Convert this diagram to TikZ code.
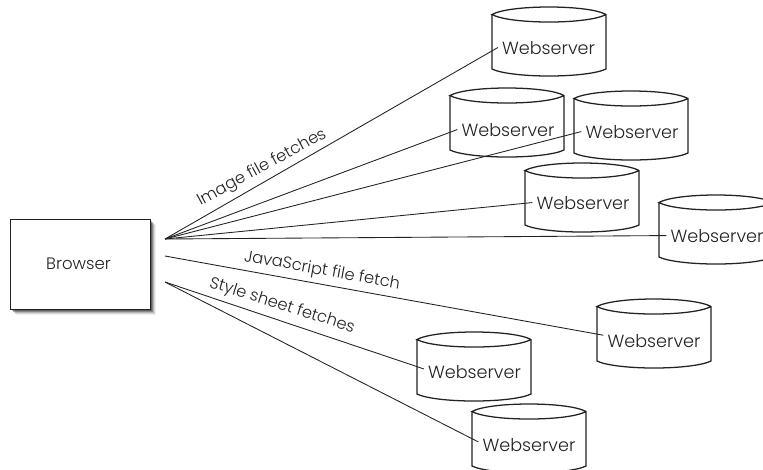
\documentclass[tikz,border=0pt]{standalone}
\usepackage{fontspec}
\setmainfont{Poppins}[UprightFont=* Light]
\definecolor{ink}{HTML}{222222}
\tikzset{x=0.75pt,y=-0.75pt,
  cyl/.style={draw=ink,line width=0.95pt,fill=white},
  link/.style={draw=ink,line width=0.65pt},
  wtext/.style={text=ink,font=\fontsize{13.2}{15}\selectfont,inner sep=3pt,anchor=base},
  lab/.style={text=ink,font=\fontsize{12.2}{14}\selectfont,inner sep=0pt},
  browserbox/.style={draw=ink,line width=0.7pt,fill=white,minimum width=105pt,minimum height=67.5pt,inner sep=0pt}}
\newcommand{\cylbody}[2]{% left x, ellipse top y
  \path[cyl] (#1,#2+7.5) -- (#1,#2+62) .. controls (#1+8,#2+66) and (#1+30,#2+69) .. (#1+57,#2+69)
     .. controls (#1+84,#2+69) and (#1+106,#2+66) .. (#1+114,#2+62) -- (#1+114,#2+7.5)
     .. controls (#1+106,#2+3) and (#1+84,#2) .. (#1+57,#2)
     .. controls (#1+30,#2) and (#1+8,#2+3) .. (#1,#2+7.5)
     .. controls (#1+8,#2+12) and (#1+30,#2+15) .. (#1+57,#2+15)
     .. controls (#1+84,#2+15) and (#1+106,#2+12) .. (#1+114,#2+7.5);}
\begin{document}
\begin{tikzpicture}
\useasboundingbox (0,0) rectangle (763,469);
\clip (0,0) rectangle (763,469);
\foreach \o/\a in {6/0.06,5/0.1,4/0.16,3/0.25,2/0.3}
  \fill[black,opacity=\a] (10+\o,219+\o) rectangle (150+\o,309+\o);
\node[browserbox] (browser) at (80,264) {};
\node[text=ink,font=\fontsize{12.4}{14}\selectfont] (browserlabel) at (78.5,264) {Browser};
\coordinate (s1) at (165,239);
\coordinate (s2) at (165,256);
\coordinate (s3) at (165,282);
\cylbody{492}{7}
\cylbody{450}{88}
\cylbody{574}{91}
\cylbody{525}{163}
\cylbody{659}{195}
\cylbody{597}{299}
\cylbody{417}{332}
\cylbody{472}{404}
\node[wtext] (w1) at (548.5,54) {Webserver};
\node[wtext] (w2) at (508,136) {Webserver};
\node[wtext] (w3) at (632,138) {Webserver};
\node[wtext] (w4) at (583,209) {Webserver};
\node[wtext] (w5) at (717,242) {Webserver};
\node[wtext] (w6) at (654,347) {Webserver};
\node[wtext] (w7) at (474.5,378) {Webserver};
\node[wtext] (w8) at (529,451) {Webserver};
\foreach \t in {w1,w2,w3,w4,w5} \draw[link] (s1) -- (\t.west);
\draw[link] (s2) -- (w6.174);
\draw[link] (s3) -- (w7.177);
\draw[link] (s3) -- (w8.177);
\node[lab,rotate=28.5] (l1) at (262,168) {Image file fetches};
\node[lab,rotate=-10.2] (l2) at (322,271) {JavaScript file fetch};
\node[lab,rotate=-17.5] (l3) at (282,306) {Style sheet fetches};
\end{tikzpicture}
\end{document}
